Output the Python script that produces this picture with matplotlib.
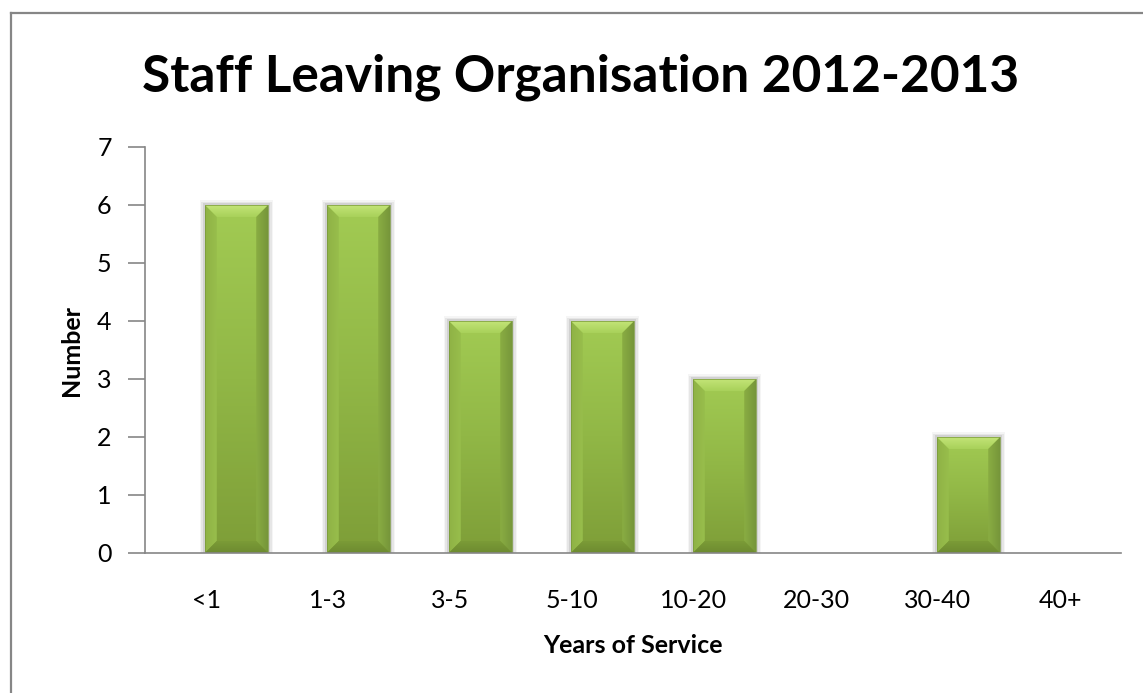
import numpy as np
import matplotlib
matplotlib.use("Agg")
import matplotlib.pyplot as plt
from matplotlib.colors import LinearSegmentedColormap
from matplotlib.patches import Polygon
from matplotlib.lines import Line2D

categories = ["<1", "1-3", "3-5", "5-10", "10-20", "20-30", "30-40", "40+"]
counts = [6, 6, 4, 4, 3, 0, 2, 0]
yticks = [0, 1, 2, 3, 4, 5, 6, 7]

W, H = 1143, 693
plt.rcParams['font.family'] = ['Lato', 'DejaVu Sans']

fig = plt.figure(figsize=(W / 100, H / 100), dpi=100)
ax = fig.add_axes([145 / W, 1 - 553 / H, (1121 - 145) / W, (553 - 147) / H])

x = np.arange(len(categories))
offset = 0.25      # bars sit in the right slot of each category
bw = 0.52
ax.set_xlim(-0.5, len(categories) - 0.5)
ax.set_ylim(0, 7)

# px per data unit, used for the bevel size
sx = ax.bbox.width / len(categories)
sy = ax.bbox.height / 7.0


def grad_fill(ax, verts, colors, extent, vertical=True, z=3):
    # polygon filled with a linear gradient
    poly = Polygon(verts, closed=True, facecolor="none", edgecolor="none", zorder=z)
    ax.add_patch(poly)
    cmap = LinearSegmentedColormap.from_list("g", colors)
    g = np.linspace(0, 1, 128)
    img = g.reshape(-1, 1) if vertical else g.reshape(1, -1)
    im = ax.imshow(img, cmap=cmap, extent=extent, origin="lower", aspect="auto",
                   zorder=z, interpolation="bilinear")
    im.set_clip_path(poly)


bars = ax.bar(x + offset, counts, width=bw, color="none", edgecolor="none", zorder=2)
for rect, v in zip(bars, counts):
    if v <= 0:
        continue
    x0, x1 = rect.get_x(), rect.get_x() + rect.get_width()
    y0, y1 = 0, v
    # soft shadow
    for k, a in zip([5, 3.5, 2], [0.04, 0.06, 0.09]):
        ax.add_patch(plt.Rectangle((x0 - k / sx, y0), (x1 - x0) + 2 * k / sx,
                                   v + k / sy, facecolor="black", alpha=a,
                                   edgecolor="none", zorder=1))
    bx = 12 / sx
    by = 12 / sy
    # body
    grad_fill(ax, [(x0, y0), (x1, y0), (x1, y1), (x0, y1)],
              ["#7e9e38", "#91b746", "#a2cb53"], (x0, x1, y0, y1), z=2)
    # bevel faces
    grad_fill(ax, [(x0, y1), (x1, y1), (x1 - bx, y1 - by), (x0 + bx, y1 - by)],
              ["#a8d15a", "#c3e477"], (x0, x1, y1 - by, y1), z=3)
    grad_fill(ax, [(x0, y1), (x0 + bx, y1 - by), (x0 + bx, y0 + by), (x0, y0)],
              ["#8fb245", "#98be4c"], (x0, x0 + bx, y0, y1), vertical=False, z=3)
    grad_fill(ax, [(x1, y1), (x1 - bx, y1 - by), (x1 - bx, y0 + by), (x1, y0)],
              ["#8aad43", "#76963a"], (x1 - bx, x1, y0, y1), vertical=False, z=3)
    grad_fill(ax, [(x0, y0), (x0 + bx, y0 + by), (x1 - bx, y0 + by), (x1, y0)],
              ["#6d8b30", "#7b9b37"], (x0, x1, y0, y0 + by), z=3)
    ax.add_patch(plt.Rectangle((x0, y0), x1 - x0, v, facecolor="none",
                               edgecolor="#78983a", linewidth=0.5, zorder=4))

axis_col = "#868686"
for s in ["top", "right"]:
    ax.spines[s].set_visible(False)
for s in ["left", "bottom"]:
    ax.spines[s].set_color(axis_col)
    ax.spines[s].set_linewidth(1.2)
    ax.spines[s].set_zorder(5)

ax.set_yticks(yticks)
ax.set_yticklabels([str(t) for t in yticks], fontsize=18)
ax.tick_params(axis="y", direction="out", length=12, width=1.2, color=axis_col, pad=12)
ax.set_xticks(x)
ax.set_xticklabels(categories, fontsize=18)
ax.tick_params(axis="x", length=0, pad=26)

ax.set_xlabel("Years of Service", fontsize=18, fontweight="bold", labelpad=16)
ax.set_ylabel("Number", fontsize=18, fontweight="bold", labelpad=10)
fig.text(0.508, 1 - 77 / H, "Staff Leaving Organisation 2012-2013", ha="center",
         va="center", fontsize=37, fontweight="bold")

# chart area frame (left and top edges)
fig.add_artist(Line2D([11 / W, 11 / W], [0, 1 - 13 / H], color=axis_col, lw=1.6,
                      transform=fig.transFigure))
fig.add_artist(Line2D([11 / W, 1], [1 - 13 / H, 1 - 13 / H], color=axis_col, lw=1.6,
                      transform=fig.transFigure))

fig.savefig("out.png", dpi=100)
